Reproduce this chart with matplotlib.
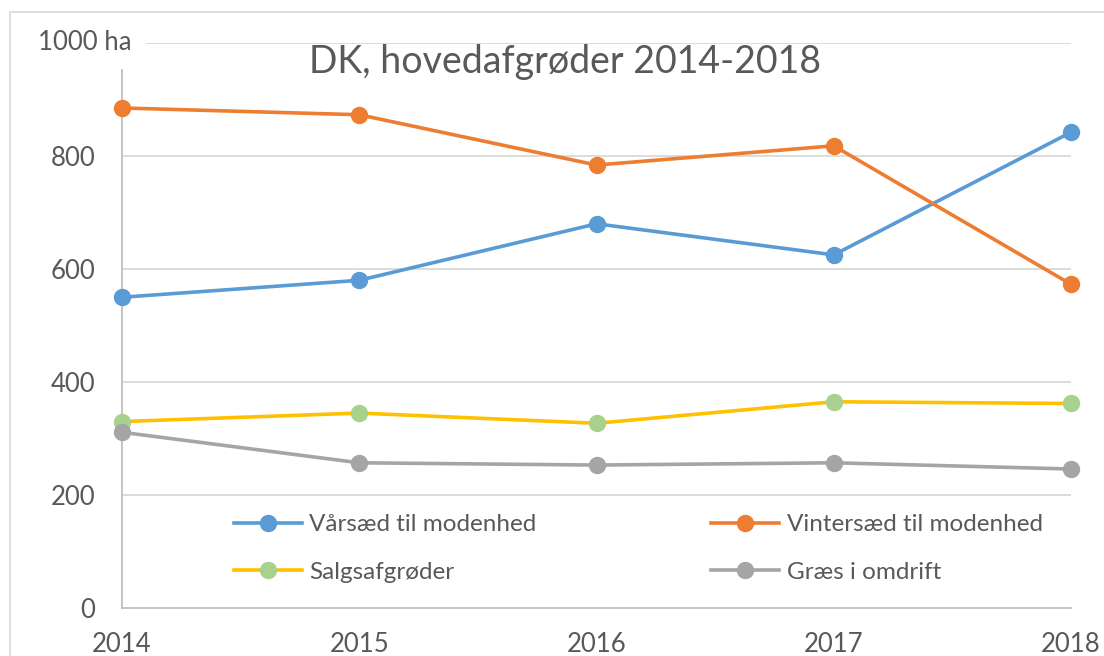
import matplotlib
matplotlib.use('agg')
import matplotlib.pyplot as plt
from matplotlib.patches import Rectangle

plt.rcParams['font.family'] = ['Lato', 'DejaVu Sans']

years = [2014, 2015, 2016, 2017, 2018]
vaarsaed = [550, 580, 680, 625, 842]
vintersaed = [885, 873, 784, 818, 573]
salgsafgroeder = [330, 345, 327, 365, 362]
graes = [311, 257, 253, 257, 246]

y_ticks = [0, 200, 400, 600, 800, 1000]
title = 'DK, hovedafgrøder 2014-2018'

TXT = '#595959'
GRID = '#D9D9D9'

fig = plt.figure(figsize=(11.04, 6.56), dpi=100)
ax = fig.add_axes([122 / 1104, 48 / 656, (1071 - 122) / 1104, (608 - 43) / 656])

# outer chart frame (cropped at right/bottom)
fig.patches.append(Rectangle((10 / 1104, -0.1), 1.2, 1.1 - 12 / 656,
                             transform=fig.transFigure, fill=False,
                             edgecolor=GRID, linewidth=1.2))

# (label, values, line colour, marker colour)
series = [
    ('Vårsæd til modenhed', vaarsaed, '#5B9BD5', '#5B9BD5'),
    ('Vintersæd til modenhed', vintersaed, '#ED7D31', '#ED7D31'),
    ('Salgsafgrøder', salgsafgroeder, '#FFC000', '#A9D18E'),
    ('Græs i omdrift', graes, '#A5A5A5', '#A5A5A5'),
]
lines = {}
for name, vals, lc, mc in series:
    ln, = ax.plot(years, vals, color=lc, linewidth=2.6, marker='o', markersize=11.5,
                  markerfacecolor=mc, markeredgecolor=mc, label=name, zorder=3,
                  clip_on=False)
    lines[name] = ln

ax.set_xlim(2014, 2018)
ax.set_ylim(0, 1000)
ax.set_xticks(years)
ax.set_yticks(y_ticks)
ax.set_yticklabels([str(v) for v in y_ticks[:-1]] + [''])
ax.tick_params(length=0, labelsize=18.5, colors=TXT)
ax.tick_params(axis='y', pad=19)
ax.tick_params(axis='x', pad=17)

for v in y_ticks[1:-1]:
    ax.axhline(v, color=GRID, linewidth=1.3, zorder=1)
ax.axhline(1000, xmin=(147 - 122) / (1071 - 122), color=GRID, linewidth=1.3, zorder=1)

for s in ['top', 'right']:
    ax.spines[s].set_visible(False)
ax.spines['left'].set_bounds(0, 952)
for s in ['left', 'bottom']:
    ax.spines[s].set_color('#BFBFBF')
    ax.spines[s].set_linewidth(1.3)

ax.annotate('1000 ha', xy=(2014, 1000), xytext=(-84, 0), textcoords='offset pixels',
            ha='left', va='center', fontsize=18.5, color=TXT)

fig.text(565 / 1104, 1 - 62 / 656, title, ha='center', va='center',
         fontsize=27, color=TXT)

# legend fills column-wise, so order the handles to get Excel's row layout
order = ['Vårsæd til modenhed', 'Salgsafgrøder', 'Vintersæd til modenhed', 'Græs i omdrift']
ax.legend([lines[n] for n in order], order,
          loc='center', bbox_to_anchor=(0.578, 0.164), bbox_transform=fig.transFigure,
          ncol=2, frameon=False, fontsize=17.5, labelcolor=TXT,
          handlelength=2.8, handletextpad=0.3, columnspacing=7.2, labelspacing=1.1)

fig.savefig('out.png', dpi=100)
